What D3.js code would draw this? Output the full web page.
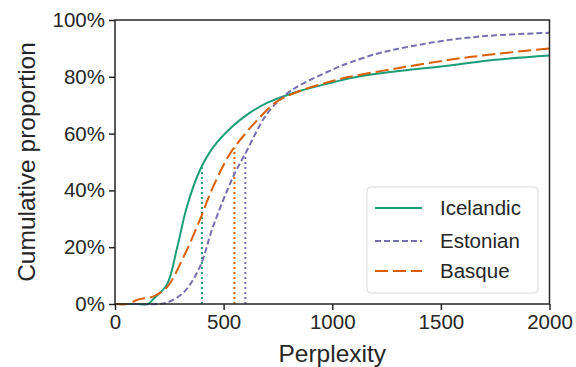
<!DOCTYPE html>
<html lang="en">
<head>
  <meta charset="utf-8">
  <title>Cumulative perplexity</title>
  <style>
    html,body { margin:0; padding:0; background:#fff; }
    svg { display:block; }
    text { font-family: Arial, "Liberation Sans", sans-serif; fill:#262626; }
  </style>
  <script src="https://d3js.org/d3.v7.min.js"></script>
</head>
<body>
<svg width="576" height="367"></svg>
<script>
// cumulative proportion (%), per language
const languages = ["Icelandic", "Estonian", "Basque"];
const colors = ["#1b9e77", "#7570b3", "#d95f02"];
const dashes = [null, "6,3", "13,5"];

const icelandicX = [0, 100, 150, 180, 240, 285, 330, 390, 450, 540, 620, 700, 850, 1000, 1080, 1250, 1540, 1750, 2000];
const icelandicY = [0, 0, 0, 2, 7, 19.5, 34, 47, 55, 62.5, 67.3, 70.8, 75, 78, 79.5, 81.5, 84, 86, 87.5];

const estonianX = [0, 100, 200, 240, 315, 390, 450, 545, 600, 700, 790, 850, 1000, 1080, 1200, 1300, 1540, 1750, 2000];
const estonianY = [0, 0, 0, 0.5, 4, 13, 27, 45, 53, 67, 74, 77, 82.5, 85, 88, 89.8, 93, 94.6, 95.5];

const basqueX = [0, 60, 100, 150, 175, 240, 315, 390, 450, 530, 600, 640, 740, 850, 1000, 1080, 1300, 1540, 1750, 2000];
const basqueY = [0, 0, 1.4, 2.2, 2.6, 6, 16.5, 29.5, 41, 53, 60, 63.5, 71, 75, 78.5, 80, 83, 86, 88, 90];

// dotted markers (perplexity thresholds) per language
const markers = [400, 600, 550];

const xTicks = [0, 500, 1000, 1500, 2000];
const yTicks = [0, 20, 40, 60, 80, 100];

const series = [
  icelandicX.map((x, i) => [x, icelandicY[i]]),
  estonianX.map((x, i) => [x, estonianY[i]]),
  basqueX.map((x, i) => [x, basqueY[i]])
];

const margin = {left:115, right:26.5, top:20, bottom:63};
const width = 576, height = 367;
const svg = d3.select("svg");

const x = d3.scaleLinear().domain([0, 2000]).range([margin.left, width - margin.right]);
const y = d3.scaleLinear().domain([0, 100]).range([height - margin.bottom, margin.top]);

const line = d3.line()
  .x(d => x(d[0]))
  .y(d => y(Math.max(0, d[1])))
  .curve(d3.curveCatmullRom.alpha(0.5));

// linear lookup of a curve value at a given perplexity
function valueAt(pts, v) {
  for (let i = 1; i < pts.length; i++) {
    if (pts[i][0] >= v) {
      const t = (v - pts[i-1][0]) / (pts[i][0] - pts[i-1][0]);
      return pts[i-1][1] + t * (pts[i][1] - pts[i-1][1]);
    }
  }
  return pts[pts.length-1][1];
}

// dotted verticals
markers.forEach((m, i) => {
  svg.append("line")
    .attr("x1", x(m)).attr("x2", x(m))
    .attr("y1", y(0)).attr("y2", y(valueAt(series[i], m)))
    .attr("stroke", colors[i])
    .attr("stroke-width", 2)
    .attr("stroke-dasharray", "2,3");
});

// curves
series.forEach((pts, i) => {
  svg.append("path")
    .datum(pts)
    .attr("d", line)
    .attr("fill", "none")
    .attr("stroke", colors[i])
    .attr("stroke-width", 2)
    .attr("stroke-dasharray", dashes[i]);
});

// axes
const xAxis = svg.append("g")
  .attr("transform", `translate(0,${y(0)})`)
  .call(d3.axisBottom(x).tickValues(xTicks).tickSize(6).tickPadding(4).tickFormat(d3.format("d")));
const yAxis = svg.append("g")
  .attr("transform", `translate(${x(0)},0)`)
  .call(d3.axisLeft(y).tickValues(yTicks).tickSize(6).tickPadding(4).tickFormat(d => d + "%"));

[xAxis, yAxis].forEach(g => {
  g.select(".domain").remove();
  g.selectAll(".tick line").attr("stroke", "#262626").attr("stroke-width", 1.5);
  g.selectAll(".tick text").attr("font-size", 20.5).attr("fill", "#262626");
});

// frame
svg.append("rect")
  .attr("x", x(0)).attr("y", y(100))
  .attr("width", x(2000) - x(0)).attr("height", y(0) - y(100))
  .attr("fill", "none")
  .attr("stroke", "#262626")
  .attr("stroke-width", 1.5);

// axis labels
svg.append("text")
  .attr("x", (x(0) + x(2000)) / 2)
  .attr("y", 362)
  .attr("text-anchor", "middle")
  .attr("font-size", 24.5)
  .text("Perplexity");

svg.append("text")
  .attr("transform", `translate(35,${(y(0) + y(100)) / 2}) rotate(-90)`)
  .attr("text-anchor", "middle")
  .attr("font-size", 24.5)
  .text("Cumulative proportion");

// legend
const legend = svg.append("g");
legend.append("rect")
  .attr("x", 367).attr("y", 187)
  .attr("width", 171).attr("height", 106)
  .attr("rx", 4)
  .attr("fill", "#fff")
  .attr("fill-opacity", 0.8)
  .attr("stroke", "#d9d9d9")
  .attr("stroke-width", 1);

const rowY = [208, 241, 271];
languages.forEach((name, i) => {
  legend.append("line")
    .attr("x1", 375).attr("x2", 422)
    .attr("y1", rowY[i]).attr("y2", rowY[i])
    .attr("stroke", colors[i])
    .attr("stroke-width", 2)
    .attr("stroke-dasharray", dashes[i]);
  legend.append("text")
    .attr("x", 440).attr("y", rowY[i])
    .attr("dy", "0.35em")
    .attr("font-size", 20.5)
    .text(name);
});
</script>
</body>
</html>
